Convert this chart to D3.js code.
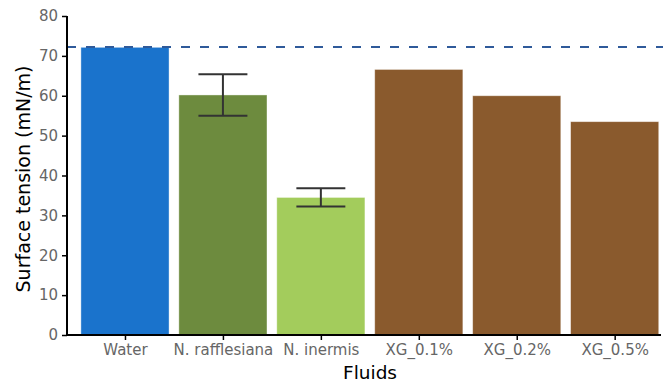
<!DOCTYPE html>
<html>
<head>
  <meta charset="utf-8">
  <title>Surface tension</title>
  <script src="https://d3js.org/d3.v7.min.js"></script>
  <style>
    body { margin: 0; background: #fff; }
    svg text { font-family: "DejaVu Sans", Verdana, sans-serif; }
    .tick text { fill: #666; }
  </style>
</head>
<body>
  <svg></svg>
  <script>
    //begin: data
    var fluids = ["Water", "N. rafflesiana", "N. inermis", "XG_0.1%", "XG_0.2%", "XG_0.5%"];
    var tension = [72.15, 60.2, 34.5, 66.6, 60.0, 53.5];
    var tensionErr = [0, 5.2, 2.3, 0, 0, 0];
    var barColors = ["#1a73cc", "#6d8b3e", "#a3cc5c", "#8a5a2d", "#8a5a2d", "#8a5a2d"];
    var waterRef = 72.2;
    var yTicks = [0, 10, 20, 30, 40, 50, 60, 70, 80];
    //end: data

    var svgWidth = 663, svgHeight = 388,
      plotLeft = 67, plotRight = 661, plotTop = 16, plotBottom = 335,
      barWidth = 0.9;

    var svg = d3.select("svg").attr("width", svgWidth).attr("height", svgHeight);

    var x = d3.scaleLinear().domain([-0.592, 5.473]).range([plotLeft, plotRight]);
    var y = d3.scaleLinear().domain([0, 80]).range([plotBottom, plotTop]);

    // bars
    svg.append("g").selectAll("rect")
      .data(tension)
      .enter().append("rect")
      .attr("x", function (d, i) { return x(i - barWidth / 2); })
      .attr("width", function (d, i) { return x(i + barWidth / 2) - x(i - barWidth / 2); })
      .attr("y", function (d) { return y(d); })
      .attr("height", function (d) { return y(0) - y(d); })
      .style("fill", function (d, i) { return barColors[i]; })
      .style("stroke", "rgba(255,255,255,0.5)")
      .style("stroke-width", 0.8);

    // error bars
    var errs = svg.append("g").selectAll("g")
      .data(tension.map(function (d, i) { return { i: i, v: d, e: tensionErr[i] }; }).filter(function (d) { return d.e > 0; }))
      .enter().append("g")
      .style("stroke", "#333").style("stroke-width", 2);
    errs.append("line")
      .attr("x1", function (d) { return x(d.i); }).attr("x2", function (d) { return x(d.i); })
      .attr("y1", function (d) { return y(d.v + d.e); }).attr("y2", function (d) { return y(d.v - d.e); });
    errs.selectAll(".cap")
      .data(function (d) { return [[d.i, d.v + d.e], [d.i, d.v - d.e]]; })
      .enter().append("line")
      .attr("x1", function (d) { return x(d[0] - 0.25); }).attr("x2", function (d) { return x(d[0] + 0.25); })
      .attr("y1", function (d) { return y(d[1]); }).attr("y2", function (d) { return y(d[1]); });

    // reference line for water
    svg.append("line")
      .attr("x1", plotLeft).attr("x2", svgWidth)
      .attr("y1", y(waterRef)).attr("y2", y(waterRef))
      .style("stroke", "#2f5a9a").style("stroke-width", 2)
      .style("stroke-dasharray", "9,10");

    // axes
    var yAxis = svg.append("g")
      .attr("transform", "translate(" + plotLeft + ",0)")
      .call(d3.axisLeft(y).tickValues(yTicks).tickSize(5).tickPadding(4));
    yAxis.selectAll("text").style("font-size", "15px");

    var xAxis = svg.append("g")
      .attr("transform", "translate(0," + plotBottom + ")")
      .call(d3.axisBottom(x).tickValues(d3.range(fluids.length))
        .tickFormat(function (i) { return fluids[i]; }).tickSize(5).tickPadding(4));
    xAxis.selectAll("text").style("font-size", "15px");

    svg.selectAll(".domain").style("stroke", "#000").style("stroke-width", 2);
    svg.selectAll(".tick line").style("stroke", "#000").style("stroke-width", 1.5);
    xAxis.select(".domain").attr("d", "M" + plotLeft + ",0H" + plotRight);
    yAxis.select(".domain").attr("d", "M0," + plotTop + "V" + plotBottom);

    // titles
    svg.append("text")
      .attr("transform", "translate(" + [370, 379] + ")")
      .attr("text-anchor", "middle")
      .style("font-size", "18.5px")
      .text("Fluids");
    svg.append("text")
      .attr("transform", "translate(" + [30, 179] + ") rotate(-90)")
      .attr("text-anchor", "middle")
      .style("font-size", "19px")
      .text("Surface tension (mN/m)");
  </script>
</body>
</html>
